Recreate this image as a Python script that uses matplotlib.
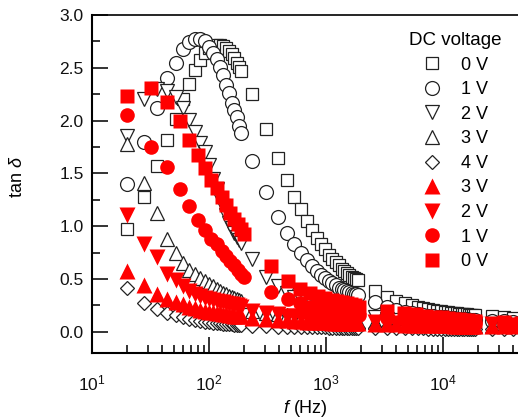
import matplotlib
matplotlib.use("Agg")
import matplotlib.pyplot as plt
from matplotlib.ticker import AutoMinorLocator, LogLocator, FuncFormatter
import math

plt.rcParams["font.family"] = ["Liberation Sans", "DejaVu Sans"]
plt.rcParams["mathtext.fontset"] = "custom"
plt.rcParams["mathtext.rm"] = "Liberation Sans"
plt.rcParams["mathtext.it"] = "Liberation Sans:italic"

# frequency grids (Hz)
F_BLACK = [20, 28, 36, 44, 52, 60, 68, 76, 84, 92, 100, 108, 116, 124, 132, 140, 148, 156, 164, 172, 180, 188,
           235, 310, 385, 460, 535, 610, 685, 760, 835, 910, 985, 1060, 1135, 1210, 1285, 1360, 1435, 1510,
           1585, 1660, 1735, 1810, 1885,
           2600, 3300, 4000, 4700, 5400, 6100, 6800, 7500, 8200, 8900, 9600, 10300, 11000, 11700, 12400,
           13100, 13800, 14500, 15200, 15900, 16600, 17300, 18000, 18700,
           26000, 33000, 40000]
F_RED = [20, 32, 44, 56, 68, 80, 92, 104, 116, 128, 140, 152, 164, 176, 188, 200,
         340, 470, 600, 730, 860, 990, 1120, 1250, 1380, 1510, 1640, 1770, 1900,
         3300, 4600, 5900, 7200, 8500, 9800, 11100, 12400, 13700, 15000, 16300, 17600, 18900,
         33000, 46000]

# tan delta, open symbols
SQ_0V = [0.97, 1.28, 1.57, 1.82, 2.02, 2.20, 2.35, 2.48, 2.57, 2.64, 2.69, 2.71, 2.72, 2.72, 2.71, 2.69, 2.66, 2.63, 2.59, 2.55, 2.51, 2.47,
         2.25, 1.92, 1.65, 1.44, 1.28, 1.16, 1.05, 0.96, 0.89, 0.83, 0.78, 0.73, 0.69, 0.66, 0.63, 0.60, 0.58, 0.56, 0.54, 0.52, 0.51, 0.50, 0.49,
         0.39, 0.33, 0.29, 0.27, 0.25, 0.235, 0.225, 0.215, 0.205, 0.20, 0.195, 0.19, 0.185, 0.18, 0.178, 0.175, 0.172, 0.17, 0.168, 0.166, 0.164, 0.162, 0.16, 0.158,
         0.15, 0.14, 0.135]
CI_1V = [1.40, 1.80, 2.12, 2.40, 2.55, 2.68, 2.74, 2.77, 2.77, 2.75, 2.70, 2.64, 2.58, 2.51, 2.43, 2.34, 2.26, 2.17, 2.10, 2.03, 1.95, 1.88,
         1.62, 1.32, 1.09, 0.94, 0.83, 0.75, 0.68, 0.62, 0.58, 0.54, 0.51, 0.48, 0.46, 0.44, 0.42, 0.41, 0.40, 0.39, 0.38, 0.37, 0.36, 0.355, 0.35,
         0.28, 0.24, 0.21, 0.19, 0.18, 0.17, 0.16, 0.155, 0.15, 0.145, 0.14, 0.137, 0.134, 0.131, 0.128, 0.126, 0.124, 0.122, 0.12, 0.118, 0.116, 0.115, 0.114, 0.113,
         0.105, 0.10, 0.095]
TD_2V = [1.85, 2.20, 2.30, 2.28, 2.22, 2.12, 2.01, 1.89, 1.79, 1.70, 1.58, 1.45, 1.35, 1.26, 1.19, 1.11, 1.03, 0.98, 0.94, 0.90, 0.87, 0.84,
         0.69, 0.52, 0.43, 0.37, 0.33, 0.30, 0.28, 0.26, 0.245, 0.23, 0.22, 0.21, 0.20, 0.195, 0.19, 0.185, 0.18, 0.175, 0.17, 0.168, 0.165, 0.162, 0.16,
         0.14, 0.125, 0.115, 0.11, 0.105, 0.10, 0.097, 0.094, 0.092, 0.09, 0.088, 0.086, 0.085, 0.084, 0.083, 0.082, 0.081, 0.08, 0.079, 0.078, 0.078, 0.077, 0.077, 0.076,
         0.072, 0.07, 0.068]
TU_3V = [1.78, 1.41, 1.13, 0.88, 0.75, 0.65, 0.59, 0.55, 0.51, 0.48, 0.45, 0.43, 0.41, 0.39, 0.37, 0.36, 0.34, 0.33, 0.32, 0.31, 0.30, 0.29,
         0.20, 0.18, 0.17, 0.16, 0.15, 0.145, 0.14, 0.135, 0.13, 0.125, 0.12, 0.118, 0.115, 0.112, 0.11, 0.108, 0.106, 0.104, 0.102, 0.10, 0.10, 0.098, 0.097,
         0.09, 0.085, 0.08, 0.078, 0.076, 0.074, 0.072, 0.07, 0.069, 0.068, 0.067, 0.066, 0.065, 0.064, 0.064, 0.063, 0.063, 0.062, 0.062, 0.061, 0.061, 0.06, 0.06, 0.06,
         0.058, 0.056, 0.055]
DI_4V = [0.42, 0.27, 0.22, 0.18, 0.16, 0.14, 0.125, 0.115, 0.105, 0.098, 0.092, 0.087, 0.083, 0.08, 0.077, 0.074, 0.072, 0.07, 0.068, 0.066, 0.065, 0.064,
         0.055, 0.052, 0.05, 0.048, 0.047, 0.046, 0.045, 0.044, 0.043, 0.042, 0.042, 0.041, 0.041, 0.04, 0.04, 0.04, 0.039, 0.039, 0.039, 0.038, 0.038, 0.038, 0.038,
         0.036, 0.035, 0.034, 0.034, 0.033, 0.033, 0.033, 0.032, 0.032, 0.032, 0.032, 0.031, 0.031, 0.031, 0.031, 0.031, 0.03, 0.03, 0.03, 0.03, 0.03, 0.03, 0.03, 0.03,
         0.03, 0.03, 0.03]

# tan delta, filled red symbols
TU_3V_R = [0.58, 0.44, 0.36, 0.31, 0.28, 0.26, 0.24, 0.225, 0.21, 0.20, 0.19, 0.185, 0.18, 0.175, 0.17, 0.165, 0.16, 0.158, 0.155, 0.152, 0.15, 0.148,
           0.13, 0.12, 0.115, 0.11, 0.105, 0.10, 0.098, 0.096, 0.094, 0.092, 0.09, 0.089, 0.088, 0.087, 0.086, 0.085, 0.084, 0.083, 0.082, 0.082, 0.081, 0.081, 0.08,
           0.075, 0.072, 0.07, 0.068, 0.067, 0.066, 0.065, 0.064, 0.063, 0.063, 0.062, 0.062, 0.061, 0.061, 0.06, 0.06, 0.06, 0.059, 0.059, 0.059, 0.058, 0.058, 0.058, 0.058,
           0.056, 0.055, 0.055]
TD_2V_R = [1.11, 0.83, 0.71, 0.55, 0.49, 0.43, 0.39, 0.36, 0.34, 0.325, 0.31, 0.30, 0.29, 0.285, 0.28, 0.27, 0.265, 0.26, 0.255, 0.25, 0.245, 0.24,
           0.20, 0.18, 0.165, 0.155, 0.15, 0.145, 0.14, 0.135, 0.13, 0.128, 0.125, 0.122, 0.12, 0.118, 0.116, 0.114, 0.112, 0.11, 0.108, 0.106, 0.105, 0.104, 0.103,
           0.095, 0.09, 0.087, 0.085, 0.083, 0.082, 0.081, 0.08, 0.079, 0.078, 0.077, 0.077, 0.076, 0.076, 0.075, 0.075, 0.075, 0.074, 0.074, 0.074, 0.073, 0.073, 0.073, 0.073,
           0.07, 0.068, 0.067]
CI_1V_R = [2.05, 1.75, 1.56, 1.35, 1.19, 1.06, 0.96, 0.88, 0.83, 0.77, 0.72, 0.67, 0.63, 0.59, 0.55, 0.52,
           0.38, 0.31, 0.27, 0.24, 0.22, 0.21, 0.20, 0.19, 0.18, 0.175, 0.17, 0.165, 0.16,
           0.13, 0.12, 0.11, 0.105, 0.10, 0.095, 0.092, 0.09, 0.088, 0.086, 0.085, 0.084, 0.083,
           0.078, 0.075]
SQ_0V_R = [2.23, 2.31, 2.18, 2.00, 1.82, 1.67, 1.55, 1.44, 1.36, 1.28, 1.20, 1.13, 1.07, 1.02, 0.97, 0.93,
           0.62, 0.48, 0.41, 0.37, 0.34, 0.32, 0.30, 0.29, 0.28, 0.27, 0.26, 0.25, 0.24,
           0.20, 0.18, 0.165, 0.155, 0.145, 0.14, 0.13, 0.125, 0.12, 0.115, 0.11, 0.105, 0.10,
           0.09, 0.085]

EDGE = "#222222"
RED = "#ff0000"

fig = plt.figure(figsize=(5.18, 4.20), dpi=100)
# axes runs past the right edge of the picture (the original is cropped there)
ax = fig.add_axes([0.1776, 0.1595, 0.9035, 0.8048])

open_kw = dict(ls="none", mfc="white", mec=EDGE, mew=0.9)
ax.plot(F_BLACK, SQ_0V, marker="s", ms=8.8, label="0 V", **open_kw)
ax.plot(F_BLACK, CI_1V, marker="o", ms=10, label="1 V", **open_kw)
ax.plot(F_BLACK, TD_2V, marker="v", ms=10.5, label="2 V", **open_kw)
ax.plot(F_BLACK, TU_3V, marker="^", ms=10.5, label="3 V", **open_kw)
ax.plot(F_BLACK, DI_4V, marker="D", ms=7.5, label="4 V", **open_kw)

red_kw = dict(ls="none", mfc=RED, mec="none")
ax.plot(F_BLACK, TU_3V_R, marker="^", ms=11.5, label="3 V", **red_kw)
ax.plot(F_BLACK, TD_2V_R, marker="v", ms=11.5, label="2 V", **red_kw)
ax.plot(F_RED, CI_1V_R, marker="o", ms=10.5, label="1 V", **red_kw)
ax.plot(F_RED, SQ_0V_R, marker="s", ms=9.8, label="0 V", **red_kw)

ax.set_xscale("log")
ax.set_xlim(10, 1e5)
ax.set_ylim(-0.2, 3.0)
ax.set_yticks([0.0, 0.5, 1.0, 1.5, 2.0, 2.5, 3.0])
ax.yaxis.set_minor_locator(AutoMinorLocator(2))
ax.xaxis.set_major_locator(LogLocator(base=10))
ax.xaxis.set_minor_locator(LogLocator(base=10, subs=range(2, 10)))


def dec_label(v, pos):
    # 10^5 sits beyond the cropped edge of the original
    if v > 1.5e4:
        return ""
    return r"$10^{%d}$" % round(math.log10(v))


ax.xaxis.set_major_formatter(FuncFormatter(dec_label))

ax.tick_params(which="both", direction="in", top=False, right=False, labelsize=12.5, colors="#111111")
ax.tick_params(which="major", length=11.5, width=1.2)
ax.tick_params(which="minor", length=5.8, width=1.2)
ax.tick_params(axis="x", which="major", pad=15)
ax.tick_params(axis="y", which="major", pad=6)

for side in ("left", "bottom"):
    ax.spines[side].set_linewidth(1.5)
ax.spines["top"].set_linewidth(1.2)
ax.spines["right"].set_visible(False)

ax.set_ylabel(r"tan $\delta$", fontsize=13)
ax.yaxis.set_label_coords(-0.14, 0.52)
ax.set_xlabel(r"$f$ (Hz)", fontsize=13)
ax.xaxis.set_label_coords(0.457, -0.133)

leg = ax.legend(title="DC voltage", loc="upper left", bbox_to_anchor=(0.79, 0.924),
                bbox_transform=fig.transFigure, frameon=False, fontsize=13, title_fontsize=13.5,
                numpoints=1, handlelength=1.0, handletextpad=1.1, labelspacing=0.42,
                borderpad=0, borderaxespad=0)

fig.savefig("out.png", dpi=100, facecolor="white")
